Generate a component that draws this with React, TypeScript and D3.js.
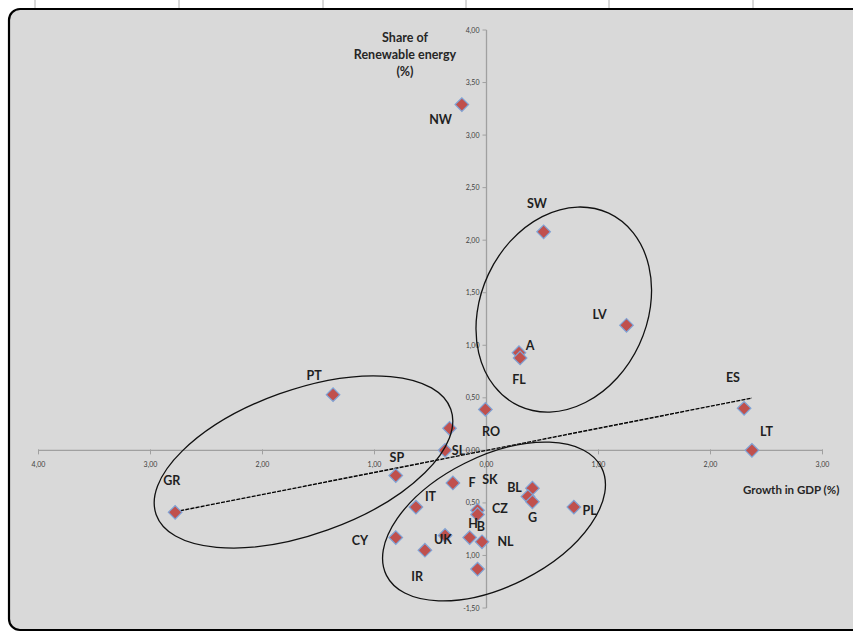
import React from "react";
import * as d3 from "d3";

// ---- data ----
const gdpGrowth = [-0.22, 0.51, 1.25, 0.29, 0.30, -1.37, -0.01, 2.30, 2.37, -0.33, -0.37, -0.81, -2.78, -0.30, -0.63, -0.81, -0.55, -0.37, -0.15, -0.04, -0.08, -0.08, -0.08, 0.41, 0.37, 0.41, 0.78];
const renewShare = [3.29, 2.08, 1.19, 0.93, 0.88, 0.53, 0.39, 0.40, 0.00, 0.21, 0.00, -0.24, -0.59, -0.31, -0.54, -0.83, -0.95, -0.81, -0.83, -0.87, -0.57, -0.61, -1.13, -0.36, -0.44, -0.49, -0.54];

const labelText = ["NW", "SW", "LV", "A", "FL", "PT", "RO", "ES", "LT", "SL", "SP", "GR", "F", "SK", "IT", "BL", "CZ", "G", "PL", "H", "B", "UK", "NL", "CY", "IR"];
const labelX = [-0.41, 0.45, 1.01, 0.39, 0.29, -1.54, 0.04, 2.20, 2.50, -0.25, -0.80, -2.81, -0.13, 0.03, -0.50, 0.25, 0.12, 0.41, 0.92, -0.12, -0.05, -0.39, 0.17, -1.13, -0.62];
const labelY = [3.15, 2.35, 1.29, 1.00, 0.67, 0.71, 0.18, 0.69, 0.18, 0.0, -0.07, -0.29, -0.31, -0.28, -0.44, -0.35, -0.55, -0.64, -0.57, -0.70, -0.72, -0.85, -0.87, -0.86, -1.20];

const xTicks = [-4, -3, -2, -1, 0, 1, 2, 3];
const xTickLabels = ["4,00", "3,00", "2,00", "1,00", "0,00", "1,00", "2,00", "3,00"];
const yTicks = [4, 3.5, 3, 2.5, 2, 1.5, 1, 0.5, 0, -0.5, -1, -1.5];
const yTickLabels = ["4,00", "3,50", "3,00", "2,50", "2,00", "1,50", "1,00", "0,50", "0,00", "0,50", "1,00", "-1,50"];

const trendSlope = 0.21;
const trendIntercept = 0.0;

// annotation ellipses: centre in data units, semi-axes in x-units, rotation in degrees
const ellipseCx = [0.69, -1.634, 0.067];
const ellipseCy = [1.34, -0.11, -0.677];
const ellipseA = [0.743, 1.397, 1.074];
const ellipseB = [0.949, 0.645, 0.582];
const ellipseAngle = [25, -19.7, -26.6];

const yTitleLines = ["Share of", "Renewable energy", "(%)"];
const xTitle = "Growth in GDP (%)";

export default function App() {
  const W = 853, H = 633;
  const x = d3.scaleLinear().domain([-4, 3]).range([38.5, 822.5]);
  const y = d3.scaleLinear().domain([-1.5, 4]).range([608, 30]);
  const kx = x(1) - x(0);
  const x0 = x(0), y0 = y(0);

  const diamond = d3.symbol().type(d3.symbolSquare).size(92)();
  const xMin = d3.min(gdpGrowth) as number;
  const xMax = d3.max(gdpGrowth) as number;
  const trend = d3.line<number>().x((v) => x(v)).y((v) => y(trendSlope * v + trendIntercept));

  const font = "Lato, 'Open Sans', sans-serif";
  const topMarks = [35, 179, 323, 466, 609, 753];

  return (
    <svg width={W} height={H} style={{ position: "absolute", left: 0, top: 0, background: "#fff" }}>
      {topMarks.map((m, i) => (
        <line key={"tm" + i} x1={m} x2={m} y1={0} y2={8} stroke="#b0b0b0" strokeWidth={1} />
      ))}
      <rect x={9} y={9} width={900} height={621} rx={11} ry={11} fill="#D9D9D9" stroke="#000" strokeWidth={2.2} />

      {/* axes */}
      <line x1={x(-4)} x2={x(3)} y1={y0} y2={y0} stroke="#a0a0a0" strokeWidth={1.3} />
      <line x1={x0} x2={x0} y1={y(4)} y2={y(-1.5)} stroke="#a0a0a0" strokeWidth={1.3} />
      {xTicks.map((t, i) => (
        <g key={"xt" + i}>
          <line x1={x(t)} x2={x(t)} y1={y0 - 1} y2={y0 + 4} stroke="#a0a0a0" strokeWidth={1} />
          <text x={x(t)} y={y0 + 17} fontSize={7} fill="#404040" textAnchor="middle" fontFamily={font}>
            {xTickLabels[i]}
          </text>
        </g>
      ))}
      {yTicks.map((t, i) => (
        <g key={"yt" + i}>
          <line x1={x0 - 4} x2={x0} y1={y(t)} y2={y(t)} stroke="#a0a0a0" strokeWidth={1} />
          <text x={x0 - 7} y={y(t) + 2.5} fontSize={7} fill="#404040" textAnchor="end" fontFamily={font}>
            {yTickLabels[i]}
          </text>
        </g>
      ))}

      {/* axis titles */}
      {yTitleLines.map((s, i) => (
        <text key={"yl" + i} x={405} y={42 + i * 17} fontSize={12.5} fontWeight="bold" fill="#262626" textAnchor="middle" fontFamily={font}>
          {s}
        </text>
      ))}
      <text x={743} y={494} fontSize={11.5} fontWeight="bold" fill="#262626" fontFamily={font}>
        {xTitle}
      </text>

      {/* trend line */}
      <path d={trend([xMin, xMax]) || ""} fill="none" stroke="#000" strokeWidth={1.4} strokeDasharray="4 1.2" />

      {/* markers */}
      {gdpGrowth.map((g, i) => (
        <path
          key={"p" + i}
          d={diamond}
          transform={`translate(${x(g)},${y(renewShare[i])}) rotate(45)`}
          fill="#C0504D"
          stroke="#7FA3D6"
          strokeWidth={1.2}
        />
      ))}

      {/* data labels */}
      {labelText.map((s, i) => (
        <text
          key={"lb" + i}
          x={x(labelX[i])}
          y={y(labelY[i]) + 4.5}
          fontSize={12.5}
          fontWeight="bold"
          fill="#1f1f1f"
          textAnchor="middle"
          fontFamily={font}
        >
          {s}
        </text>
      ))}

      {/* annotation ellipses */}
      {ellipseCx.map((c, i) => (
        <ellipse
          key={"el" + i}
          cx={0}
          cy={0}
          rx={ellipseA[i] * kx}
          ry={ellipseB[i] * kx}
          transform={`translate(${x(c)},${y(ellipseCy[i])}) rotate(${ellipseAngle[i]})`}
          fill="none"
          stroke="#111"
          strokeWidth={1.3}
        />
      ))}
    </svg>
  );
}
